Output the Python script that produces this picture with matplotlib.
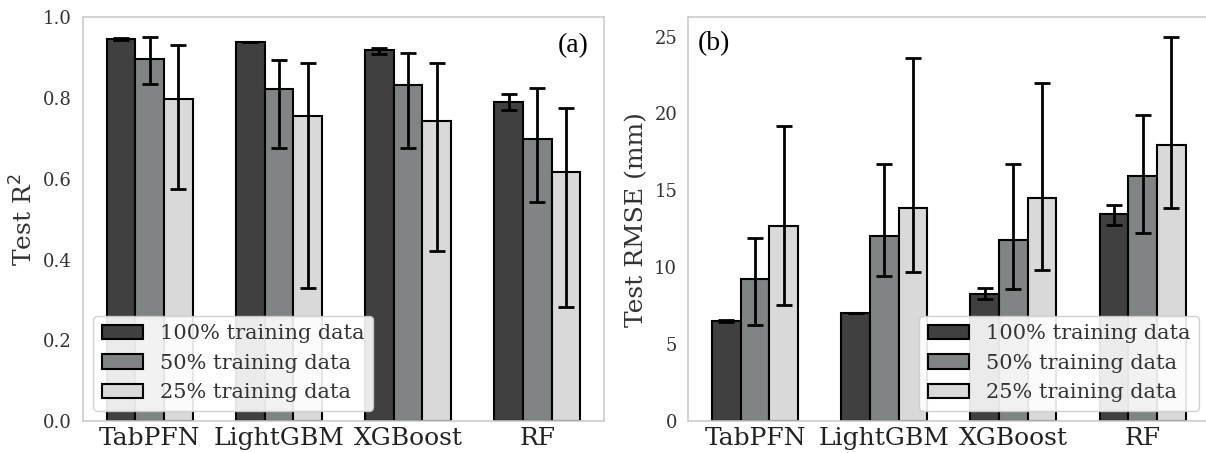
import matplotlib
matplotlib.use("Agg")
import matplotlib.pyplot as plt
import numpy as np

models = ["TabPFN", "LightGBM", "XGBoost", "RF"]
series_labels = ["100% training data", "50% training data", "25% training data"]
colors = ["#404040", "#808484", "#d9d9d9"]

# Panel (a): Test R^2 (mean, lower bound, upper bound)
r2_100 = [0.947, 0.940, 0.918, 0.789]
r2_100_lo = [0.945, 0.940, 0.910, 0.771]
r2_100_hi = [0.949, 0.940, 0.925, 0.809]
r2_50 = [0.896, 0.823, 0.832, 0.698]
r2_50_lo = [0.834, 0.677, 0.677, 0.543]
r2_50_hi = [0.952, 0.893, 0.912, 0.824]
r2_25 = [0.797, 0.756, 0.742, 0.616]
r2_25_lo = [0.575, 0.330, 0.421, 0.282]
r2_25_hi = [0.931, 0.888, 0.886, 0.776]

# Panel (b): Test RMSE (mm)
rmse_100 = [6.49, 7.01, 8.26, 13.47]
rmse_100_lo = [6.42, 7.01, 7.92, 12.75]
rmse_100_hi = [6.56, 7.01, 8.67, 14.03]
rmse_50 = [9.26, 12.04, 11.76, 15.96]
rmse_50_lo = [6.23, 9.45, 8.57, 12.23]
rmse_50_hi = [11.89, 16.70, 16.70, 19.89]
rmse_25 = [12.67, 13.88, 14.49, 17.96]
rmse_25_lo = [7.55, 9.69, 9.82, 13.86]
rmse_25_hi = [19.17, 23.62, 21.99, 25.00]

W, H = 1206, 453
fig = plt.figure(figsize=(W / 100, H / 100), dpi=100)
axL = fig.add_axes([83 / W, (H - 421) / H, 521 / W, 403.7 / H])
axR = fig.add_axes([688.3 / W, (H - 421) / H, 521 / W, 403.7 / H])

serif = "DejaVu Serif"
width = 0.222
x = np.arange(len(models))


def draw(ax, means, los, his, ylabel):
    for i, (m, lo, hi) in enumerate(zip(means, los, his)):
        m = np.array(m)
        err = np.vstack([m - np.array(lo), np.array(hi) - m])
        ax.bar(x + (i - 1) * width, m, width, color=colors[i], edgecolor="black",
               linewidth=1.5, label=series_labels[i], zorder=2)
        ax.errorbar(x + (i - 1) * width, m, yerr=err, fmt="none", ecolor="black",
                    elinewidth=2, capsize=6, capthick=2, zorder=3)
    ax.set_xticks(x)
    ax.set_xticklabels(models, fontsize=18, family=serif)
    for lab in ax.get_yticklabels():
        lab.set_family(serif)
    ax.tick_params(axis="y", labelsize=13, length=0, pad=8, colors="#333333")
    ax.tick_params(axis="x", length=0, pad=4, colors="#222222")
    ax.set_ylabel(ylabel, fontsize=18, family=serif, color="#333333")
    for s in ax.spines.values():
        s.set_color("#cccccc")
        s.set_linewidth(1.2)


draw(axL, [r2_100, r2_50, r2_25], [r2_100_lo, r2_50_lo, r2_25_lo],
     [r2_100_hi, r2_50_hi, r2_25_hi], "Test R$^2$")
draw(axR, [rmse_100, rmse_50, rmse_25], [rmse_100_lo, rmse_50_lo, rmse_25_lo],
     [rmse_100_hi, rmse_50_hi, rmse_25_hi], "Test RMSE (mm)")

axL.set_yticks([0.0, 0.2, 0.4, 0.6, 0.8, 1.0])
axL.set_yticklabels(["0.0", "0.2", "0.4", "0.6", "0.8", "1.0"], family=serif)
axR.set_yticks([0, 5, 10, 15, 20, 25])
axR.set_yticklabels(["0", "5", "10", "15", "20", "25"], family=serif)

for ax, loc in [(axL, "lower left"), (axR, "lower right")]:
    leg = ax.legend(loc=loc, prop={"family": serif, "size": 15}, fancybox=True,
                    framealpha=0.9, edgecolor="#cccccc", handlelength=2.0,
                    borderaxespad=0.5)
    for t in leg.get_texts():
        t.set_color("#333333")

axL.text(0.97, 0.93, "(a)", transform=axL.transAxes, ha="right", va="center",
         fontsize=20, family="Liberation Serif")
axR.text(0.019, 0.936, "(b)", transform=axR.transAxes, ha="left", va="center",
         fontsize=20, family="Liberation Serif")

fig.savefig("out.png", dpi=100)
